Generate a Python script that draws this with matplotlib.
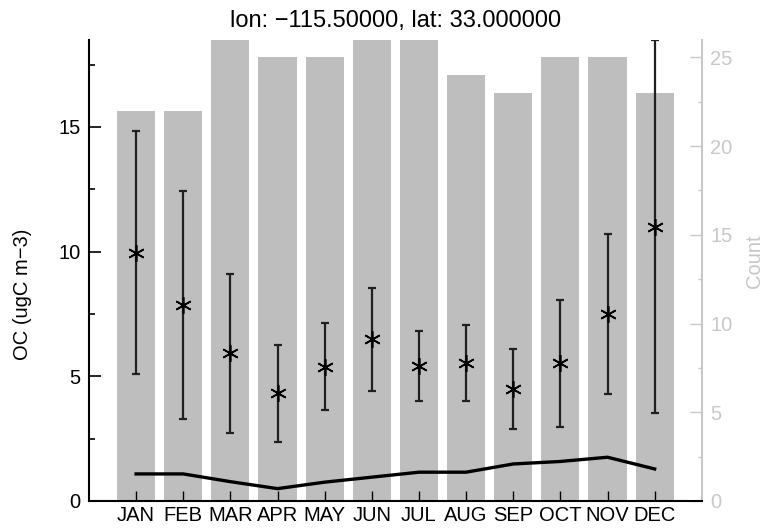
import matplotlib
matplotlib.use("Agg")
import matplotlib.pyplot as plt
from matplotlib.ticker import MultipleLocator

plt.rcParams['font.family'] = ['Liberation Sans', 'DejaVu Sans']

months = ["JAN", "FEB", "MAR", "APR", "MAY", "JUN", "JUL", "AUG", "SEP", "OCT", "NOV", "DEC"]
counts = [22, 22, 26, 25, 25, 26, 26, 24, 23, 25, 25, 23]
oc_mean = [9.95, 7.86, 5.92, 4.32, 5.38, 6.48, 5.41, 5.52, 4.48, 5.52, 7.49, 10.99]
oc_std = [4.87, 4.58, 3.18, 1.94, 1.75, 2.07, 1.39, 1.52, 1.61, 2.54, 3.20, 7.48]
model = [1.08, 1.08, 0.77, 0.49, 0.75, 0.95, 1.15, 1.15, 1.48, 1.58, 1.75, 1.28]

x = list(range(1, 13))
grey = "#c8c8c8"
fs = 14.5

fig = plt.figure(figsize=(7.67, 5.30), dpi=100)
ax = fig.add_axes([0.116, 0.055, 0.799, 0.87])
ax2 = ax.twinx()
ax.set_zorder(ax2.get_zorder() + 1)
ax.patch.set_visible(False)

# counts as bars on the right axis
ax2.bar(x, counts, width=0.81, color="#bebebe")
ax2.set_ylim(0, 26)
ax2.yaxis.set_major_locator(MultipleLocator(5))
ax2.yaxis.set_minor_locator(MultipleLocator(2.5))
ax2.tick_params(axis="y", which="major", direction="in", length=9, width=1,
                color=grey, labelcolor=grey, labelsize=fs, pad=6)
ax2.tick_params(axis="y", which="minor", direction="in", length=3, width=1, color=grey)
ax2.set_ylabel("Count", color=grey, fontsize=fs)
ax2.yaxis.set_label_coords(1.07, 0.52)
for s in ["top", "left", "bottom"]:
    ax2.spines[s].set_visible(False)
ax2.spines["right"].set_color(grey)
ax2.spines["right"].set_linewidth(1.5)

# OC mean with std error bars
ax.errorbar(x, oc_mean, yerr=oc_std, fmt="none", ecolor="#202020", elinewidth=1.6,
            capsize=3, capthick=1.6)
ax.plot(x, oc_mean, linestyle="none", marker=(6, 2, 0), markersize=12,
        markeredgewidth=1.2, color="black")
ax.plot(x, model, color="black", linewidth=2.4)

ax.set_xlim(0, 13)
ax.set_ylim(0, 18.5)
ax.set_xticks(x)
ax.set_xticklabels(months)
ax.yaxis.set_major_locator(MultipleLocator(5))
ax.yaxis.set_minor_locator(MultipleLocator(2.5))
ax.tick_params(axis="x", direction="in", length=7, width=1, labelsize=fs, pad=4)
ax.tick_params(axis="y", which="major", direction="in", length=8.5, width=1.2,
               labelsize=fs, pad=6)
ax.tick_params(axis="y", which="minor", direction="in", length=4.5, width=1.2)
ax.set_ylabel("OC (ugC m−3)", fontsize=fs)
ax.yaxis.set_label_coords(-0.093, 0.447)
for s in ["top", "right"]:
    ax.spines[s].set_visible(False)
ax.spines["left"].set_linewidth(1.5)
ax.spines["bottom"].set_linewidth(1.5)

ax.set_title("lon: −115.50000, lat: 33.000000", fontsize=17, pad=9)

fig.savefig("out.png", dpi=100)
